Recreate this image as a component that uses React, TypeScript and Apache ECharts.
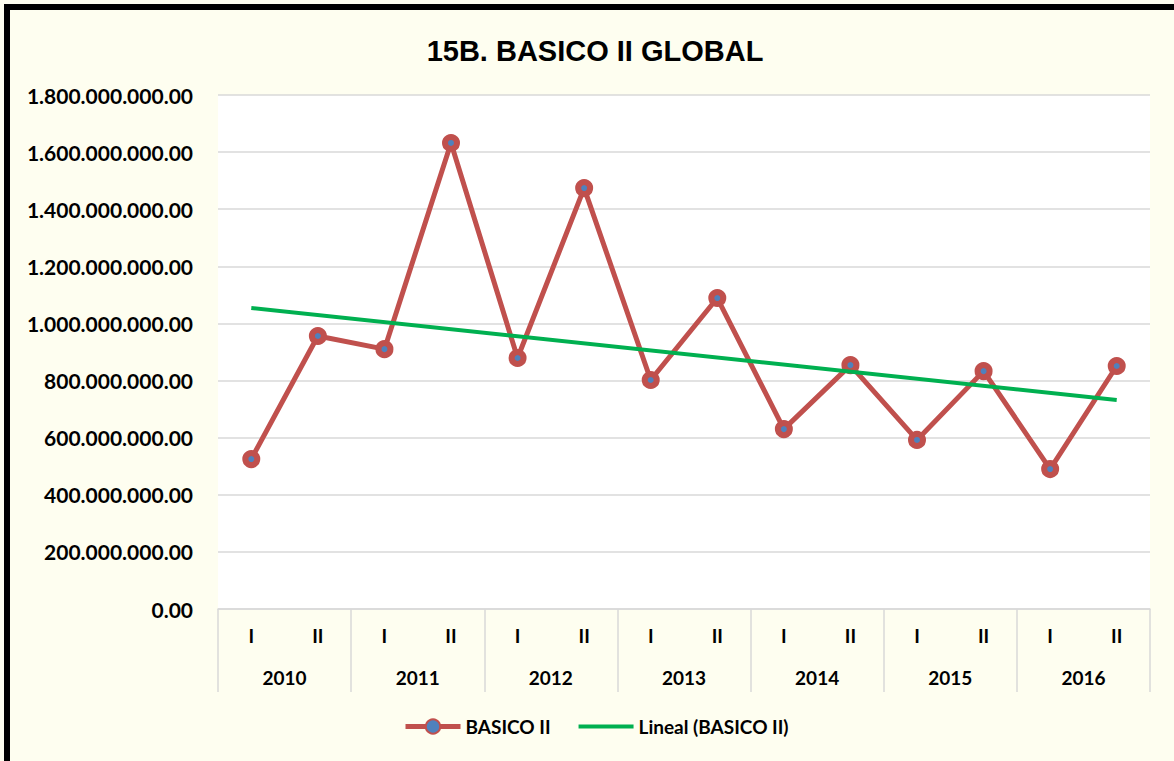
import React, { useEffect, useRef } from "react";
import * as echarts from "echarts";

const halfLabels = ["I", "II", "I", "II", "I", "II", "I", "II", "I", "II", "I", "II", "I", "II"];
const years = ["2010", "2011", "2012", "2013", "2014", "2015", "2016"];
const basicoII = [
  525000000, 956000000, 910000000, 1632000000, 879000000, 1474000000, 802000000,
  1089000000, 630000000, 854000000, 592000000, 833000000, 490000000, 851000000,
];
// Linear trend line: value at first and last category
const trendStart = 1054000000;
const trendEnd = 732000000;
const yTicks = { min: 0, max: 1800000000, interval: 200000000 };

const FONT = "Lato, 'Open Sans', sans-serif";

function fmt(v: number): string {
  const s = Math.round(v).toString();
  const parts: string[] = [];
  for (let i = s.length; i > 0; i -= 3) parts.unshift(s.substring(Math.max(0, i - 3), i));
  return parts.join(".") + ".00";
}

export default function App() {
  const ref = useRef<HTMLDivElement>(null);
  useEffect(() => {
    if (!ref.current) return;
    const chart = echarts.init(ref.current, undefined, { renderer: "svg" });
    const last = halfLabels.length - 1;
    chart.setOption({
      animation: false,
      backgroundColor: "#FEFEF0",
      textStyle: { fontFamily: FONT },
      title: {
        text: "15B. BASICO II GLOBAL",
        left: 590,
        textAlign: "center",
        top: 31,
        textStyle: { fontFamily: "'Liberation Sans', Arial, sans-serif", fontWeight: "bold", fontSize: 29, color: "#000" },
      },
      graphic: [
        {
          type: "rect",
          shape: { x: 7, y: 7, width: 1180, height: 780 },
          style: { fill: "none", stroke: "#000", lineWidth: 6 },
          z: 100,
        },
      ],
      grid: { left: 218, right: 24, top: 95, bottom: 152, backgroundColor: "#FFFFFF", show: true, borderWidth: 0 },
      legend: {
        bottom: 20,
        left: 398,
        itemWidth: 55,
        itemHeight: 18,
        itemGap: 26,
        textStyle: { fontFamily: FONT, fontWeight: "bold", fontSize: 19, color: "#000" },
        data: [
          { name: "BASICO II", lineStyle: { width: 5 } },
          { name: "Lineal (BASICO II)", lineStyle: { width: 4 }, itemStyle: { opacity: 0 } },
        ],
      },
      xAxis: [
        {
          type: "category",
          data: halfLabels,
          position: "bottom",
          boundaryGap: true,
          axisLine: { show: true, lineStyle: { color: "#D9D9D9", width: 1.5 } },
          axisTick: { show: false },
          axisLabel: { margin: 17, fontFamily: FONT, fontWeight: "bold", fontSize: 19, color: "#000", interval: 0 },
        },
        {
          type: "category",
          data: years,
          position: "bottom",
          boundaryGap: true,
          axisLine: { show: false },
          axisTick: { show: true, length: 83, interval: 0, lineStyle: { color: "#D9D9D9", width: 1.5 } },
          axisLabel: { margin: 59, fontFamily: FONT, fontWeight: "bold", fontSize: 19, color: "#000", interval: 0 },
        },
      ],
      yAxis: {
        type: "value",
        min: yTicks.min,
        max: yTicks.max,
        interval: yTicks.interval,
        axisLine: { show: false },
        axisTick: { show: false },
        splitLine: { show: true, lineStyle: { color: "#D9D9D9", width: 1.5 } },
        axisLabel: { margin: 25, formatter: fmt, fontFamily: FONT, fontWeight: "bold", fontSize: 21, color: "#000" },
      },
      series: [
        {
          name: "BASICO II",
          type: "line",
          xAxisIndex: 0,
          data: basicoII,
          symbol: "circle",
          symbolSize: 12,
          lineStyle: { color: "#C0504D", width: 5 },
          itemStyle: { color: "#4F81BD", borderColor: "#C0504D", borderWidth: 6 },
          z: 3,
        },
        {
          name: "Lineal (BASICO II)",
          type: "line",
          xAxisIndex: 0,
          data: [
            [0, trendStart],
            [last, trendEnd],
          ],
          symbol: "none",
          lineStyle: { color: "#00B050", width: 4 },
          itemStyle: { color: "#00B050" },
          z: 4,
        },
      ],
    });
    return () => chart.dispose();
  }, []);
  return (
    <div
      ref={ref}
      style={{ position: "absolute", left: 0, top: 0, width: 1174, height: 761 }}
    />
  );
}
